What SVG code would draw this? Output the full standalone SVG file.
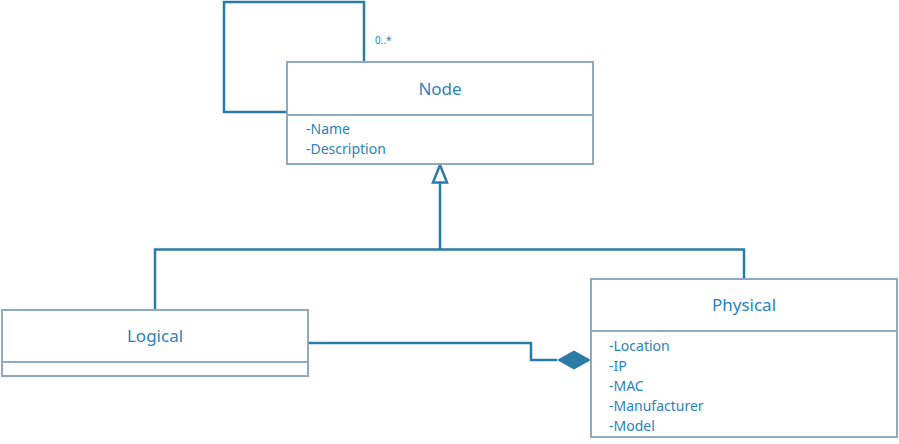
<svg xmlns="http://www.w3.org/2000/svg" width="899" height="444" viewBox="0 0 899 444">
<style>
.box{fill:#fff;stroke:#8eaac3;stroke-width:2}
.div{stroke:#8eaac3;stroke-width:2}
.con{fill:none;stroke:#2a7ba6;stroke-width:2.5}
.t{font-family:"Noto Sans","Open Sans",sans-serif;fill:#2b83bb}
.title{font-size:17px;text-anchor:middle}
.attr{font-size:14px}
.mult{font-size:10px}
</style>
<g id="connectors">
<polyline class="con" points="364,62 364,2 224,2 224,112 287,112"/>
<polyline class="con" points="155,310 155,249.5 744,249.5 744,279"/>
<line class="con" x1="440" y1="249.5" x2="440" y2="182"/>
<polygon points="440,165 433,182.5 447,182.5" fill="#fff" stroke="#2a7ba6" stroke-width="2.5"/>
<polyline class="con" points="308,343 531,343 531,360 557,360"/>
<polygon points="557,360 574,350.5 591,360 574,369.5" fill="#2a7ba6"/>
<text class="t mult" x="375" y="44">0..*</text>
</g>
<g id="node-Node">
<rect class="box" x="287" y="62" width="306" height="102"/>
<line class="div" x1="287" y1="115" x2="593" y2="115"/>
<text class="t title" x="440" y="95">Node</text>
<text class="t attr" x="306" y="134">-Name</text>
<text class="t attr" x="306" y="154">-Description</text>
</g>
<g id="node-Logical">
<rect class="box" x="2" y="310" width="306" height="66"/>
<line class="div" x1="2" y1="362" x2="308" y2="362"/>
<text class="t title" x="155" y="342">Logical</text>
</g>
<g id="node-Physical">
<rect class="box" x="591" y="279" width="306" height="158"/>
<line class="div" x1="591" y1="331" x2="897" y2="331"/>
<text class="t title" x="744" y="311">Physical</text>
<text class="t attr" x="609" y="351">-Location</text>
<text class="t attr" x="609" y="371">-IP</text>
<text class="t attr" x="609" y="391">-MAC</text>
<text class="t attr" x="609" y="411">-Manufacturer</text>
<text class="t attr" x="609" y="431">-Model</text>
</g>
</svg>
